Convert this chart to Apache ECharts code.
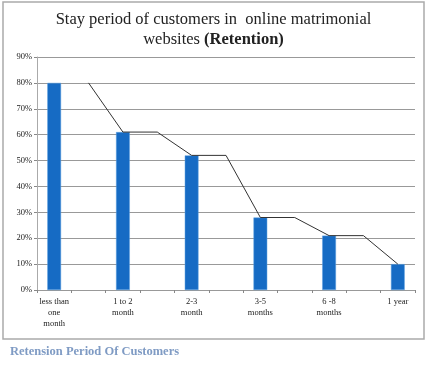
<!DOCTYPE html>
<html>
<head>
<meta charset="utf-8">
<script src="https://cdn.jsdelivr.net/npm/echarts@6/dist/echarts.min.js"></script>
<style>html,body{margin:0;padding:0;background:#fff;}#c{width:427px;height:367px;}</style>
</head>
<body>
<div id="c"></div>
<script>
var categories = ['less than\none\nmonth', '1 to 2\nmonth', '2-3\nmonth', '3-5\nmonths', '6 -8\nmonths', '1 year'];
var retention = [80, 61, 52, 28, 21, 10];
var yTicks = [0, 10, 20, 30, 40, 50, 60, 70, 80, 90];

// Interleave categories with spacer slots (bars on even slots, line steps across odd slots)
var axisCats = [], barData = [], lineData = [];
for (var i = 0; i < categories.length; i++) {
  axisCats.push(categories[i]);
  barData.push(retention[i]);
  lineData.push(i === 0 ? null : retention[i]);
  if (i < categories.length - 1) {
    axisCats.push(' ' + i);
    barData.push(null);
    lineData.push(retention[i]);
  }
}

var chart = echarts.init(document.getElementById('c'), null, {renderer: 'canvas'});
var serif = 'Liberation Serif';
chart.setOption({
  animation: false,
  backgroundColor: '#fff',
  title: {
    text: 'Stay period of customers in  online matrimonial\nwebsites {b|(Retention)}',
    left: 'center',
    top: 5,
    textStyle: {
      fontFamily: serif, fontSize: 16.5, fontWeight: 'normal', color: '#222', lineHeight: 20,
      rich: { b: { fontFamily: serif, fontSize: 16.5, fontWeight: 'bold', color: '#222' } }
    }
  },
  grid: { left: 37, right: 12, top: 57, bottom: 77 },
  xAxis: {
    type: 'category',
    data: axisCats,
    axisLine: { lineStyle: { color: '#999', width: 1 } },
    axisTick: { show: true, interval: 0, length: 3, lineStyle: { color: '#888' } },
    axisLabel: {
      interval: 0, fontFamily: serif, fontSize: 8.5, color: '#222', lineHeight: 11, margin: 6,
      formatter: function (v) { return v.charAt(0) === ' ' ? '' : v; }
    }
  },
  yAxis: {
    type: 'value', min: yTicks[0], max: yTicks[yTicks.length - 1], interval: 10,
    axisLine: { show: true, lineStyle: { color: '#aaa' } },
    axisTick: { show: true, length: 3, lineStyle: { color: '#888' } },
    axisLabel: { fontFamily: serif, fontSize: 8.5, color: '#222', margin: 5, formatter: '{value}%' },
    splitLine: { lineStyle: { color: '#999', width: 1 } }
  },
  series: [
    {
      type: 'bar', data: barData, barWidth: '40%',
      itemStyle: { color: '#166bc4', borderColor: '#5ea0e0', borderWidth: 0.5 }
    },
    {
      type: 'line', data: lineData, symbol: 'none', connectNulls: false,
      lineStyle: { color: '#333', width: 1 }, z: 3
    }
  ],
  graphic: [
    { type: 'rect', shape: { x: 3, y: 2, width: 421, height: 337 }, style: { fill: null, stroke: '#aaa', lineWidth: 1.5 }, silent: true },
    { type: 'text', left: 10, top: 345, style: { text: 'Retension Period Of Customers', font: 'bold 12.5px "Liberation Serif"', fill: '#7f9bc4' } }
  ]
});
</script>
</body>
</html>
